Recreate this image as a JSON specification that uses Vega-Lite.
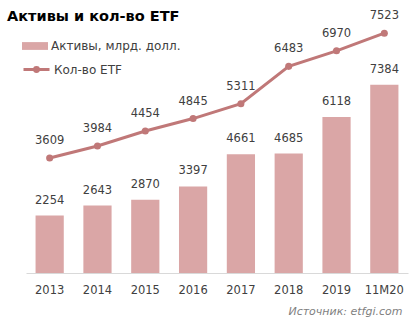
{
  "$schema": "https://vega.github.io/schema/vega-lite/v6.json",
  "autosize": {"type": "none"},
  "padding": {"left": 26, "top": 18, "right": 8, "bottom": 48},
  "width": 382,
  "height": 255,
  "background": "white",
  "title": {
    "text": "Активы и кол-во ETF",
    "anchor": "start",
    "font": "DejaVu Sans",
    "fontSize": 14.5,
    "fontWeight": "bold",
    "color": "#000000",
    "dx": -15,
    "dy": 18,
    "offset": 4
  },
  "config": {
    "view": {"stroke": null},
    "font": "DejaVu Sans",
    "legend": {"padding": 0, "labelFont": "DejaVu Sans", "labelFontSize": 12, "labelColor": "#404040", "labelOffset": 3}
  },
  "data": {
    "values": [
      {"year": "2013", "assets": 2254, "count": 3609},
      {"year": "2014", "assets": 2643, "count": 3984},
      {"year": "2015", "assets": 2870, "count": 4454},
      {"year": "2016", "assets": 3397, "count": 4845},
      {"year": "2017", "assets": 4661, "count": 5311},
      {"year": "2018", "assets": 4685, "count": 6483},
      {"year": "2019", "assets": 6118, "count": 6970},
      {"year": "11M20", "assets": 7384, "count": 7523}
    ]
  },
  "encoding": {
    "x": {
      "field": "year",
      "type": "nominal",
      "sort": null,
      "scale": {"paddingInner": 0.41, "paddingOuter": 0.2},
      "axis": {
        "title": "Источник: etfgi.com",
        "titleAnchor": "end",
        "titleAlign": "right",
        "titleX": 376,
        "titleFont": "DejaVu Sans",
        "titleFontStyle": "italic",
        "titleFontWeight": "normal",
        "titleFontSize": 11,
        "titleColor": "#7f7f7f",
        "titlePadding": 10,
        "labelAngle": 0,
        "ticks": false,
        "domainColor": "#d9d9d9",
        "labelColor": "#404040",
        "labelFont": "DejaVu Sans",
        "labelFontSize": 11.5,
        "labelPadding": 11
      }
    }
  },
  "layer": [
    {
      "layer": [
        {
          "mark": {"type": "bar"},
          "encoding": {
            "y": {"field": "assets", "type": "quantitative", "scale": {"domain": [0, 10000]}, "axis": null},
            "fill": {
              "datum": "Активы, млрд. долл.",
              "type": "nominal",
              "scale": {"range": ["#daa6a6"]},
              "legend": {
                "title": null,
                "orient": "none",
                "legendX": -4,
                "legendY": 15,
                "symbolType": "M-1,-0.3H1V0.3H-1Z",
                "symbolSize": 676,
                "symbolStrokeWidth": 0
              }
            }
          }
        },
        {
          "mark": {"type": "text", "baseline": "middle", "dy": -15, "fontSize": 11.5, "color": "#404040"},
          "encoding": {
            "y": {"field": "assets", "type": "quantitative", "scale": {"domain": [0, 10000]}, "axis": null},
            "text": {"field": "assets", "type": "quantitative"}
          }
        }
      ]
    },
    {
      "layer": [
        {
          "mark": {"type": "line", "strokeWidth": 3},
          "encoding": {
            "y": {"field": "count", "type": "quantitative", "scale": {"domain": [0, 8000]}, "axis": null},
            "stroke": {
              "datum": "Кол-во ETF",
              "type": "nominal",
              "scale": {"range": ["#c07878"]},
              "legend": {
                "title": null,
                "orient": "none",
                "legendX": -4,
                "legendY": 37,
                "symbolType": "M-1,0H1M-0.15,0A0.15,0.15 0 1,0 0.15,0A0.15,0.15 0 1,0 -0.15,0",
                "symbolSize": 676,
                "symbolStrokeWidth": 3
              }
            }
          }
        },
        {
          "mark": {"type": "point", "filled": true, "size": 50, "opacity": 1, "color": "#c07878"},
          "encoding": {
            "y": {"field": "count", "type": "quantitative", "scale": {"domain": [0, 8000]}, "axis": null}
          }
        },
        {
          "mark": {"type": "text", "baseline": "middle", "dy": -17, "fontSize": 11.5, "color": "#404040"},
          "encoding": {
            "y": {"field": "count", "type": "quantitative", "scale": {"domain": [0, 8000]}, "axis": null},
            "text": {"field": "count", "type": "quantitative"}
          }
        }
      ]
    }
  ],
  "resolve": {"scale": {"y": "independent"}}
}
